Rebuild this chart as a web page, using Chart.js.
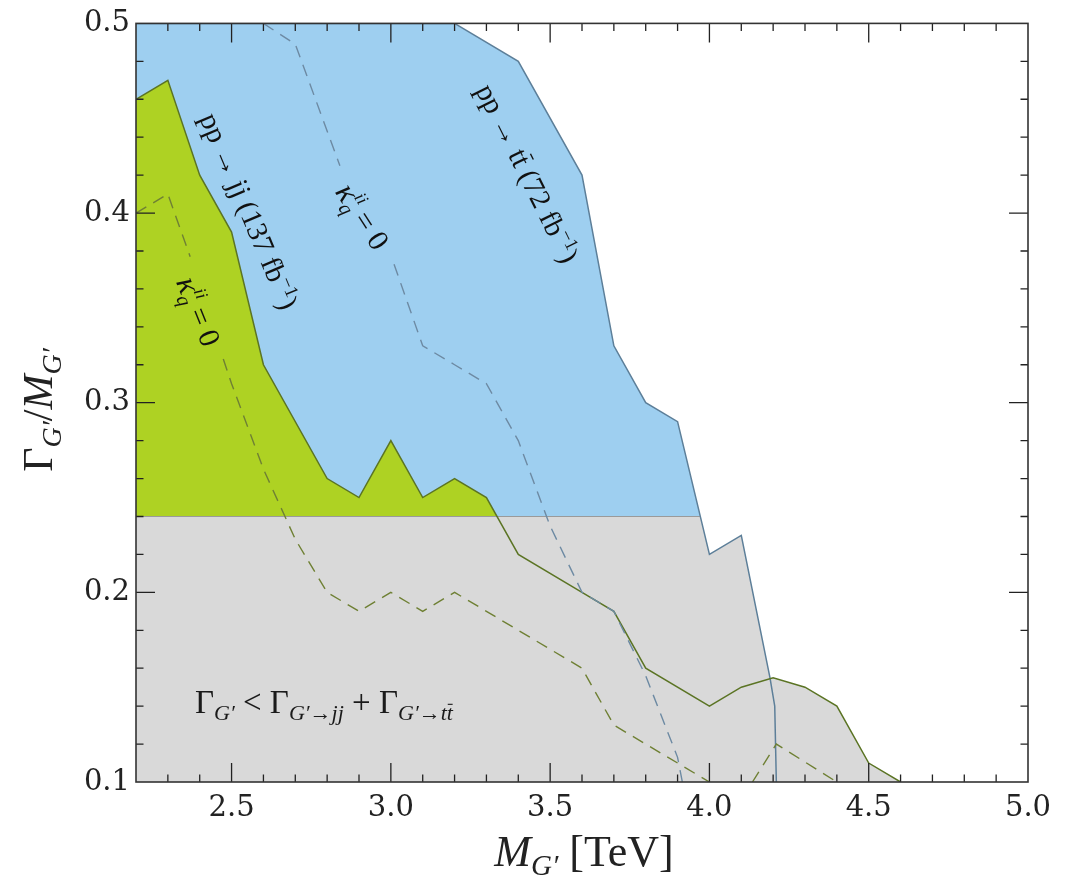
<!DOCTYPE html>
<html><head><meta charset="utf-8">
<script src="https://cdn.jsdelivr.net/npm/chart.js@4.4.1/dist/chart.umd.min.js"></script>
<style>html,body{margin:0;padding:0;background:#fff;}#wrap{width:1069px;height:879px;}</style>
</head><body><div id="wrap"><canvas id="c" width="1069" height="879"></canvas></div>
<script>
// ---------- data ----------
// pp -> tt (72 fb^-1) exclusion boundary
const ttX = [2.2, 3.2, 3.4, 3.6, 3.7, 3.8, 3.9, 4.0, 4.1, 4.19, 4.205, 4.21];
const ttY = [0.5, 0.5, 0.48, 0.42, 0.33, 0.30, 0.29, 0.22, 0.23, 0.155, 0.14, 0.10];
// pp -> jj (137 fb^-1) exclusion boundary
const jjX = [2.2, 2.3, 2.4, 2.5, 2.6, 2.8, 2.9, 3.0, 3.1, 3.2, 3.3, 3.4, 3.6, 3.7, 3.8, 4.0, 4.1, 4.2, 4.3, 4.4, 4.5, 4.6];
const jjY = [0.46, 0.47, 0.42, 0.39, 0.32, 0.26, 0.25, 0.28, 0.25, 0.26, 0.25, 0.22, 0.20, 0.19, 0.16, 0.14, 0.15, 0.155, 0.15, 0.14, 0.11, 0.10];
// kappa_q^ii = 0 dashed (tt search), null = gap for label
const kqX = [2.6, 2.7, 2.84, 2.92, 3.01, 3.1, 3.2, 3.3, 3.4, 3.5, 3.6, 3.7, 3.8, 3.9, 3.915];
const kqY = [0.5, 0.489, 0.425, null, 0.373, 0.33, 0.32, 0.31, 0.28, 0.235, 0.20, 0.19, 0.156, 0.113, 0.10];
// kappa_q^ii = 0 dashed (jj search)
const kgX = [2.2, 2.3, 2.37, 2.42, 2.474, 2.5, 2.6, 2.7, 2.8, 2.9, 3.0, 3.1, 3.2, 3.3, 3.6, 3.7, 4.0, 4.07, 4.135, 4.21, 4.4];
const kgY = [0.40, 0.41, 0.377, null, 0.323, 0.31, 0.265, 0.228, 0.20, 0.19, 0.20, 0.19, 0.20, 0.19, 0.16, 0.13, 0.10, null, 0.10, 0.12, 0.10];
// width threshold Gamma < Gamma_jj + Gamma_tt
const thrX = [2.2, 3.97];
const thrY = [0.24, 0.24];
// axis ticks
const xTicks = [2.5, 3.0, 3.5, 4.0, 4.5, 5.0];
const yTicks = [0.1, 0.2, 0.3, 0.4, 0.5];

// ---------- styles ----------
const SERIF = '"Liberation Serif", serif';
const TICKF = '"DejaVu Serif", serif';
const BLUE = '#9ecff0', GREEN = '#aed223', GREY = '#d9d9d9';
const TT_LINE = '#5d7f99', JJ_LINE = '#5b7424', KQ_DASH = '#6d8aa3', KG_DASH = '#6f8034', THR = '#9a9a9a';

const pts = (xs, ys) => xs.map((x, i) => ({x, y: ys[i]}));

function splitFill(top) {
  return (c) => {
    const ch = c.chart, a = ch.chartArea;
    if (!a) return top;
    const yp = ch.scales.y.getPixelForValue(thrY[0]);
    const g = ch.ctx.createLinearGradient(0, a.top, 0, a.bottom);
    const s = Math.min(1, Math.max(0, (yp - a.top) / (a.bottom - a.top)));
    g.addColorStop(0, top); g.addColorStop(s, top);
    g.addColorStop(s, GREY); g.addColorStop(1, GREY);
    return g;
  };
}

// rich text helpers
function fontOf(p) { return `${p.it ? 'italic ' : ''}${p.size}px ${p.fam || SERIF}`; }
function layoutRich(ctx, parts) {
  let x = 0, prevStart = 0, prevW = 0; const items = [];
  for (const p of parts) {
    ctx.font = fontOf(p);
    const w = ctx.measureText(p.t).width;
    if (p.stack) { items.push({p, x: prevStart, w}); const nw = Math.max(prevW, w); x = prevStart + nw; prevW = nw; }
    else { items.push({p, x, w}); prevStart = x; prevW = w; x += w; }
  }
  return {items, width: x};
}
function drawRich(ctx, parts, x0, y0, align) {
  const L = layoutRich(ctx, parts);
  const sx = align === 'center' ? x0 - L.width / 2 : x0;
  ctx.textBaseline = 'alphabetic'; ctx.textAlign = 'left';
  for (const it of L.items) {
    ctx.font = fontOf(it.p);
    const yy = y0 + (it.p.dy || 0);
    ctx.fillText(it.p.t, sx + it.x, yy);
    if (it.p.bar) {
      ctx.save(); ctx.lineWidth = Math.max(1, it.p.size * 0.05); ctx.strokeStyle = ctx.fillStyle;
      ctx.beginPath();
      ctx.moveTo(sx + it.x + it.w * 0.15, yy - it.p.size * 0.72);
      ctx.lineTo(sx + it.x + it.w * 0.95, yy - it.p.size * 0.72);
      ctx.stroke(); ctx.restore();
    }
  }
  return L.width;
}

const LS = 29, LSUB = 19;
const lblJJ = [{t: 'pp → jj (137 fb', size: LS}, {t: '−1', size: LSUB, dy: -11}, {t: ')', size: LS}];
const lblTT = [{t: 'pp → t', size: LS}, {t: 't', size: LS, bar: true}, {t: ' (72 fb', size: LS}, {t: '−1', size: LSUB, dy: -11}, {t: ')', size: LS}];
const lblK = [{t: 'κ', size: LS + 3, it: true}, {t: 'q', size: LSUB + 1, it: true, dy: 6}, {t: 'ii', size: LSUB - 1, it: true, dy: -13, stack: true}, {t: ' = 0', size: LS + 1}];
const GS = 33, GSUB = 22;
const lblGamma = [
  {t: 'Γ', size: GS}, {t: 'G′', size: GSUB, it: true, dy: 7}, {t: ' < Γ', size: GS},
  {t: 'G′→', size: GSUB, it: true, dy: 7}, {t: 'jj', size: GSUB, it: true, dy: 7},
  {t: ' + Γ', size: GS}, {t: 'G′→', size: GSUB, it: true, dy: 7}, {t: 't', size: GSUB, it: true, dy: 7},
  {t: 't', size: GSUB, it: true, dy: 7, bar: true}
];
const ytitle = [{t: 'Γ', size: 42}, {t: 'G′', size: 28, it: true, dy: 9}, {t: '/', size: 42}, {t: 'M', size: 42, it: true}, {t: 'G′', size: 28, it: true, dy: 9}];
const xtitle = [{t: 'M', size: 44, it: true}, {t: 'G′', size: 29, it: true, dy: 9}, {t: ' [TeV]', size: 44}];

// rotated labels: [parts, x-data, y-data, angle deg]
const rotLabels = [
  [lblJJ, 2.555, 0.401, 67],
  [lblTT, 3.429, 0.421, 63.5],
  [lblK, 2.91, 0.398, 57],
  [lblK, 2.395, 0.348, 68]
];

const framePlugin = {
  id: 'frameTicks',
  afterDatasetsDraw(chart) {
    const {ctx, chartArea: a, scales: {x, y}} = chart;
    ctx.save();
    ctx.strokeStyle = '#222'; ctx.lineWidth = 1.3;
    const MAJ = 19, MIN = 7.5;
    ctx.beginPath();
    for (let k = 22; k <= 50; k++) {
      const v = k / 10, px = x.getPixelForValue(v);
      const len = (k % 5 === 0) ? MAJ : MIN;
      if (k === 22 || k === 50) continue;
      ctx.moveTo(px, a.bottom); ctx.lineTo(px, a.bottom - len);
      ctx.moveTo(px, a.top); ctx.lineTo(px, a.top + len);
    }
    for (let k = 5; k <= 25; k++) {
      const v = k / 50, py = y.getPixelForValue(v);
      const len = (k % 5 === 0) ? MAJ : MIN;
      if (k === 5 || k === 25) continue;
      ctx.moveTo(a.left, py); ctx.lineTo(a.left + len, py);
      ctx.moveTo(a.right, py); ctx.lineTo(a.right - len, py);
    }
    ctx.stroke();
    ctx.strokeStyle = '#333'; ctx.lineWidth = 1.6;
    ctx.strokeRect(a.left, a.top, a.right - a.left, a.bottom - a.top);

    ctx.fillStyle = '#111';
    for (const [parts, dx, dy, ang] of rotLabels) {
      ctx.save();
      ctx.translate(x.getPixelForValue(dx), y.getPixelForValue(dy));
      ctx.rotate(ang * Math.PI / 180);
      drawRich(ctx, parts, 0, LS * 0.33, 'center');
      ctx.restore();
    }
    ctx.fillStyle = '#1a1a1a';
    drawRich(ctx, lblGamma, x.getPixelForValue(2.385), y.getPixelForValue(0.1363), 'left');

    // axis titles
    ctx.fillStyle = '#222';
    drawRich(ctx, xtitle, (a.left + a.right) / 2 + 2, 866, 'center');
    ctx.save();
    ctx.translate(52, 410);
    ctx.rotate(-Math.PI / 2);
    drawRich(ctx, ytitle, 0, 0, 'center');
    ctx.restore();
    ctx.restore();
  }
};

const lineDs = (label, data, color, extra) => Object.assign({
  label, data, borderColor: color, borderWidth: 1.5, pointRadius: 0, pointHoverRadius: 0,
  tension: 0, fill: false, spanGaps: false
}, extra || {});

new Chart(document.getElementById('c'), {
  type: 'line',
  data: {
    datasets: [
      lineDs('κ_q (jj) = 0', pts(kgX, kgY), KG_DASH, {borderDash: [12, 8], borderWidth: 1.4}),
      lineDs('κ_q (tt) = 0', pts(kqX, kqY), KQ_DASH, {borderDash: [12, 8], borderWidth: 1.4}),
      lineDs('pp→jj', pts(jjX, jjY), JJ_LINE, {fill: 'start', backgroundColor: splitFill(GREEN)}),
      lineDs('pp→tt', pts(ttX, ttY), TT_LINE, {fill: 'start', backgroundColor: splitFill(BLUE)}),
      lineDs('threshold', pts(thrX, thrY), THR, {borderWidth: 1.2})
    ]
  },
  options: {
    responsive: false, maintainAspectRatio: false, animation: false,
    layout: {padding: {left: 0, top: 23, right: 41, bottom: 0}},
    plugins: {legend: {display: false}, tooltip: {enabled: false}, filler: {propagate: false, drawTime: 'beforeDatasetsDraw'}},
    scales: {
      x: {
        type: 'linear', min: 2.2, max: 5.0, position: 'bottom',
        grid: {display: false, drawTicks: false}, border: {display: false},
        afterBuildTicks: s => { s.ticks = xTicks.map(v => ({value: v})); },
        afterFit: s => { s.height = 97; },
        ticks: {autoSkip: false, maxRotation: 0, padding: 9, color: '#222', font: {family: TICKF, size: 29},
          callback: v => Number(v).toFixed(1)}
      },
      y: {
        type: 'linear', min: 0.1, max: 0.5,
        grid: {display: false, drawTicks: false}, border: {display: false},
        afterBuildTicks: s => { s.ticks = yTicks.map(v => ({value: v})); },
        afterFit: s => { s.width = 136; },
        ticks: {autoSkip: false, padding: 6, color: '#222', font: {family: TICKF, size: 29},
          callback: v => Number(v).toFixed(1)}
      }
    }
  },
  plugins: [framePlugin]
});
</script></body></html>
